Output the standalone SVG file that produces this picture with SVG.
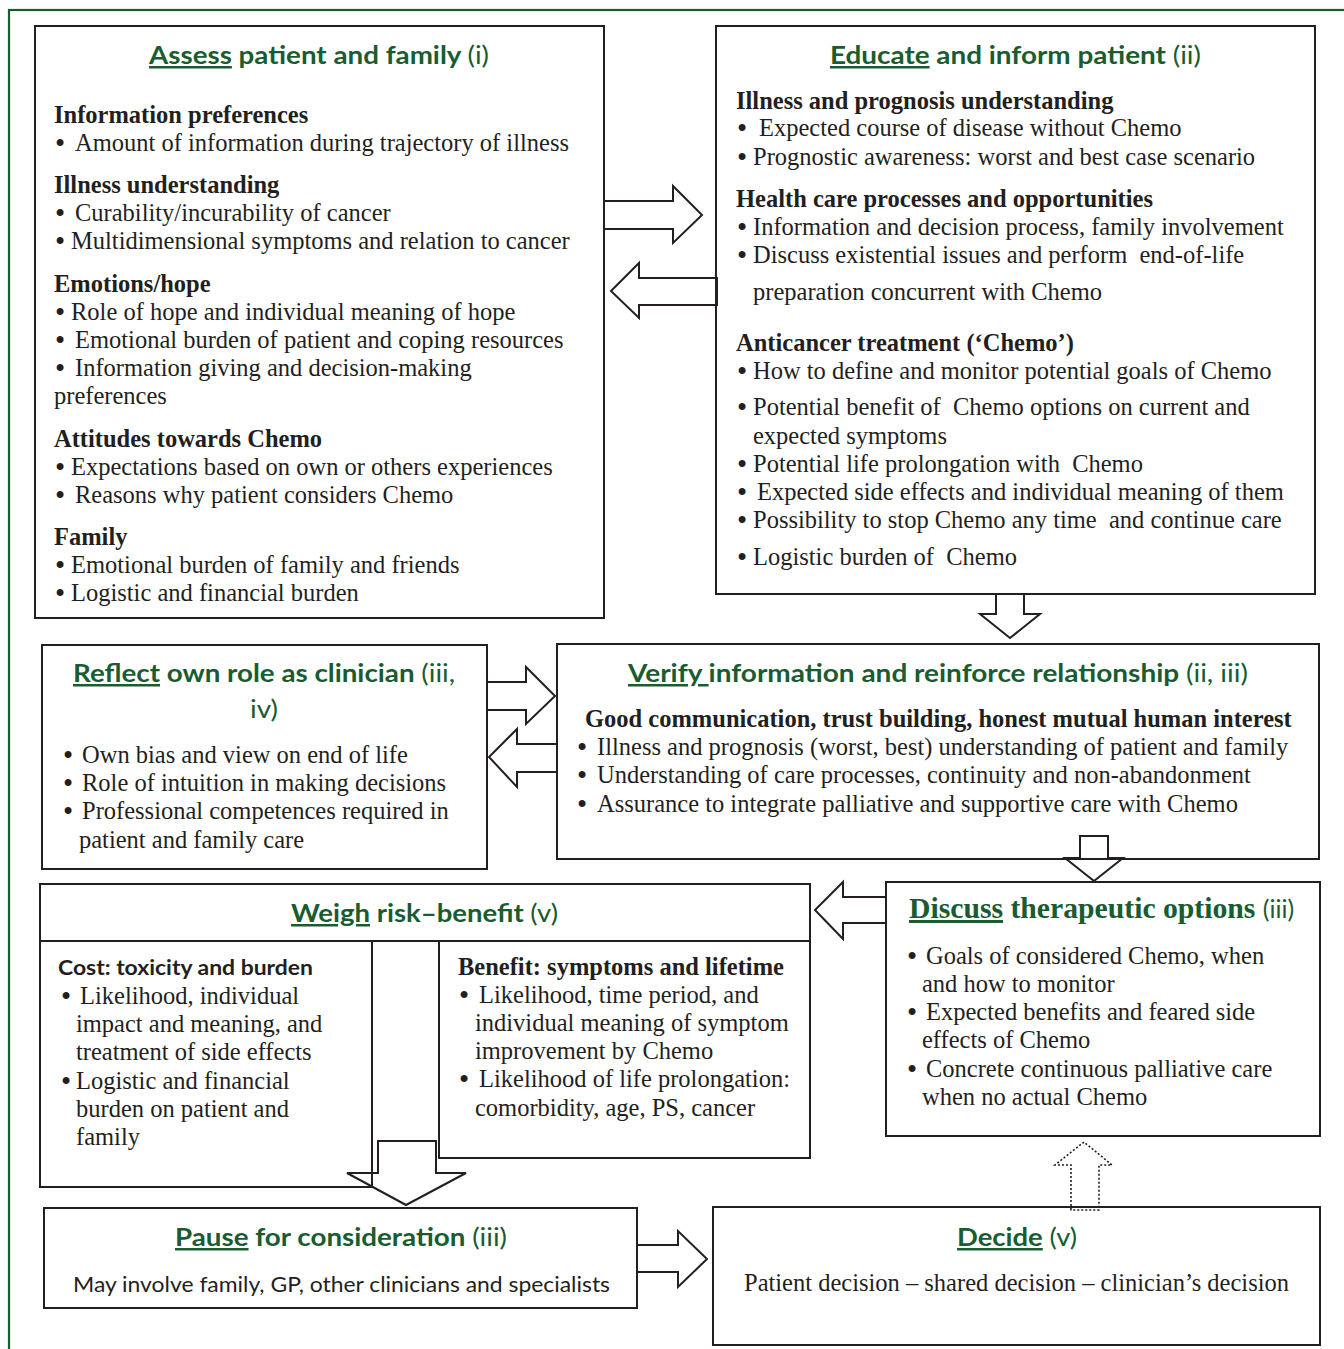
<svg xmlns="http://www.w3.org/2000/svg" width="1344" height="1349" viewBox="0 0 1344 1349">
<style>
.box{fill:none;stroke:#231f20;stroke-width:2}
.arr{fill:none;stroke:#231f20;stroke-width:2;stroke-linejoin:miter}
.dot{stroke-dasharray:2 2;stroke-width:1.6}
.t{font-family:Lato,'Liberation Sans',sans-serif;font-weight:700;font-size:25px;fill:#185c30}
.r{font-weight:400}
.u{text-decoration:underline}
.h{font-family:'Liberation Serif',serif;font-weight:700;font-size:24.5px;fill:#231f20}
.b{font-family:'Liberation Serif',serif;font-size:24.5px;fill:#231f20;white-space:pre}
.bu{font-size:29px}
.s{font-family:Lato,'Liberation Sans',sans-serif;font-size:21px;fill:#231f20}
.sb{font-family:Lato,'Liberation Sans',sans-serif;font-weight:700;font-size:21px;fill:#231f20}
.dt{font-family:'Liberation Serif',serif;font-weight:700;font-size:29.7px;fill:#185c30}
</style>
<rect x="9" y="10" width="1360" height="1360" fill="none" stroke="#185c30" stroke-width="2.2"/>

<g id="assess">
<rect class="box" x="35" y="26" width="569" height="592"/>
<text class="t" x="149" y="64" textLength="340" lengthAdjust="spacingAndGlyphs"><tspan class="u">Assess</tspan> patient and family <tspan class="r">(i)</tspan></text>
<text class="h" x="54" y="123">Information preferences</text>
<text class="b"><tspan class="bu" x="55" y="153">•</tspan><tspan x="75" y="151">Amount of information during trajectory of illness</tspan></text>
<text class="h" x="54" y="193">Illness understanding</text>
<text class="b"><tspan class="bu" x="55" y="223">•</tspan><tspan x="75" y="221">Curability/incurability of cancer</tspan></text>
<text class="b"><tspan class="bu" x="55" y="251">•</tspan><tspan x="71" y="249">Multidimensional symptoms and relation to cancer</tspan></text>
<text class="h" x="54" y="292">Emotions/hope</text>
<text class="b"><tspan class="bu" x="55" y="322">•</tspan><tspan x="71" y="320">Role of hope and individual meaning of hope</tspan></text>
<text class="b"><tspan class="bu" x="55" y="350">•</tspan><tspan x="75" y="348">Emotional burden of patient and coping resources</tspan></text>
<text class="b"><tspan class="bu" x="55" y="378">•</tspan><tspan x="75" y="376">Information giving and decision-making</tspan></text>
<text class="b" x="54" y="404">preferences</text>
<text class="h" x="54" y="447">Attitudes towards Chemo</text>
<text class="b"><tspan class="bu" x="55" y="477">•</tspan><tspan x="71" y="475">Expectations based on own or others experiences</tspan></text>
<text class="b"><tspan class="bu" x="55" y="505">•</tspan><tspan x="75" y="503">Reasons why patient considers Chemo</tspan></text>
<text class="h" x="54" y="545">Family</text>
<text class="b"><tspan class="bu" x="55" y="575">•</tspan><tspan x="71" y="573">Emotional burden of family and friends</tspan></text>
<text class="b"><tspan class="bu" x="55" y="603">•</tspan><tspan x="71" y="601">Logistic and financial burden</tspan></text>
</g>

<g id="educate">
<rect class="box" x="716" y="26" width="599" height="568"/>
<text class="t" x="830" y="64" textLength="371" lengthAdjust="spacingAndGlyphs"><tspan class="u">Educate</tspan> and inform patient <tspan class="r">(ii)</tspan></text>
<text class="h" x="736" y="109">Illness and prognosis understanding</text>
<text class="b"><tspan class="bu" x="737" y="138">•</tspan><tspan x="759" y="136">Expected course of disease without Chemo</tspan></text>
<text class="b"><tspan class="bu" x="737" y="167">•</tspan><tspan x="753" y="165">Prognostic awareness: worst and best case scenario</tspan></text>
<text class="h" x="736" y="207">Health care processes and opportunities</text>
<text class="b"><tspan class="bu" x="737" y="237">•</tspan><tspan x="753" y="235">Information and decision process, family involvement</tspan></text>
<text class="b"><tspan class="bu" x="737" y="265">•</tspan><tspan x="753" y="263">Discuss existential issues and perform  end-of-life</tspan></text>
<text class="b" x="753" y="300">preparation concurrent with Chemo</text>
<text class="h" x="736" y="351">Anticancer treatment (‘Chemo’)</text>
<text class="b"><tspan class="bu" x="737" y="381">•</tspan><tspan x="753" y="379">How to define and monitor potential goals of Chemo</tspan></text>
<text class="b"><tspan class="bu" x="737" y="417">•</tspan><tspan x="753" y="415">Potential benefit of  Chemo options on current and</tspan></text>
<text class="b" x="753" y="444">expected symptoms</text>
<text class="b"><tspan class="bu" x="737" y="474">•</tspan><tspan x="753" y="472">Potential life prolongation with  Chemo</tspan></text>
<text class="b"><tspan class="bu" x="737" y="502">•</tspan><tspan x="757" y="500">Expected side effects and individual meaning of them</tspan></text>
<text class="b"><tspan class="bu" x="737" y="530">•</tspan><tspan x="753" y="528">Possibility to stop Chemo any time  and continue care</tspan></text>
<text class="b"><tspan class="bu" x="737" y="567">•</tspan><tspan x="753" y="565">Logistic burden of  Chemo</tspan></text>
</g>

<g id="reflect">
<rect class="box" x="42" y="645" width="445" height="224"/>
<text class="t" x="73" y="682" textLength="382" lengthAdjust="spacingAndGlyphs"><tspan class="u">Reflect</tspan> own role as clinician <tspan class="r">(iii,</tspan></text>
<text class="t r" x="250" y="718" textLength="28" lengthAdjust="spacingAndGlyphs">iv)</text>
<text class="b"><tspan class="bu" x="63" y="765">•</tspan><tspan x="82" y="763">Own bias and view on end of life</tspan></text>
<text class="b"><tspan class="bu" x="63" y="793">•</tspan><tspan x="82" y="791">Role of intuition in making decisions</tspan></text>
<text class="b"><tspan class="bu" x="63" y="821">•</tspan><tspan x="82" y="819">Professional competences required in</tspan></text>
<text class="b" x="79" y="848">patient and family care</text>
</g>

<g id="verify">
<rect class="box" x="557" y="644" width="762" height="215"/>
<text class="t" x="628" y="682" textLength="620" lengthAdjust="spacingAndGlyphs"><tspan class="u">Verify </tspan>information and reinforce relationship <tspan class="r">(ii, iii)</tspan></text>
<text class="h" x="585" y="727">Good communication, trust building, honest mutual human interest</text>
<text class="b"><tspan class="bu" x="577" y="757">•</tspan><tspan x="597" y="755">Illness and prognosis (worst, best) understanding of patient and family</tspan></text>
<text class="b"><tspan class="bu" x="577" y="785">•</tspan><tspan x="597" y="783">Understanding of care processes, continuity and non-abandonment</tspan></text>
<text class="b"><tspan class="bu" x="577" y="814">•</tspan><tspan x="597" y="812">Assurance to integrate palliative and supportive care with Chemo</tspan></text>
</g>

<g id="weigh">
<rect class="box" x="40" y="884" width="770" height="57"/>
<rect class="box" x="40" y="941" width="332" height="246"/>
<rect class="box" x="439" y="941" width="371" height="217"/>
<text class="t" x="291" y="922" textLength="267" lengthAdjust="spacingAndGlyphs"><tspan class="u">Weigh</tspan> risk–benefit <tspan class="r">(v)</tspan></text>
<text class="sb" x="58" y="975" textLength="255" lengthAdjust="spacingAndGlyphs">Cost: toxicity and burden</text>
<text class="b"><tspan class="bu" x="61" y="1006">•</tspan><tspan x="80" y="1004">Likelihood, individual</tspan></text>
<text class="b" x="76" y="1032">impact and meaning, and</text>
<text class="b" x="76" y="1060">treatment of side effects</text>
<text class="b"><tspan class="bu" x="61" y="1091">•</tspan><tspan x="76" y="1089">Logistic and financial</tspan></text>
<text class="b" x="76" y="1117">burden on patient and</text>
<text class="b" x="76" y="1145">family</text>
<text class="h" x="458" y="975">Benefit: symptoms and lifetime</text>
<text class="b"><tspan class="bu" x="459" y="1005">•</tspan><tspan x="479" y="1003">Likelihood, time period, and</tspan></text>
<text class="b" x="475" y="1031">individual meaning of symptom</text>
<text class="b" x="475" y="1059">improvement by Chemo</text>
<text class="b"><tspan class="bu" x="459" y="1089">•</tspan><tspan x="479" y="1087">Likelihood of life prolongation:</tspan></text>
<text class="b" x="475" y="1116">comorbidity, age, PS, cancer</text>
</g>

<g id="discuss">
<rect class="box" x="886" y="882" width="434" height="254"/>
<text class="dt" x="909" y="918"><tspan class="u">Discuss</tspan> therapeutic options <tspan font-family="Lato,'Liberation Sans',sans-serif" font-weight="400" font-size="25px">(iii)</tspan></text>
<text class="b"><tspan class="bu" x="907" y="966">•</tspan><tspan x="926" y="964">Goals of considered Chemo, when</tspan></text>
<text class="b" x="922" y="992">and how to monitor</text>
<text class="b"><tspan class="bu" x="907" y="1022">•</tspan><tspan x="926" y="1020">Expected benefits and feared side</tspan></text>
<text class="b" x="922" y="1048">effects of Chemo</text>
<text class="b"><tspan class="bu" x="907" y="1079">•</tspan><tspan x="926" y="1077">Concrete continuous palliative care</tspan></text>
<text class="b" x="922" y="1105">when no actual Chemo</text>
</g>

<g id="pause">
<rect class="box" x="44" y="1208" width="593" height="100"/>
<text class="t" x="175" y="1246" textLength="332" lengthAdjust="spacingAndGlyphs"><tspan class="u">Pause</tspan> for consideration <tspan class="r">(iii)</tspan></text>
<text class="s" x="73" y="1292" textLength="537" lengthAdjust="spacingAndGlyphs">May involve family, GP, other clinicians and specialists</text>
</g>

<g id="decide">
<rect class="box" x="713" y="1207" width="607" height="138"/>
<text class="t" x="957" y="1246" textLength="120" lengthAdjust="spacingAndGlyphs"><tspan class="u">Decide</tspan> <tspan class="r">(v)</tspan></text>
<text class="b" x="744" y="1291">Patient decision – shared decision – clinician’s decision</text>
</g>

<g id="connectors">
<polygon class="arr" points="604,201 673,201 673,186 702,215 673,243 673,229 604,229"/>
<polygon class="arr" points="717,278 639,278 639,263 611,291 639,318 639,305 717,305"/>
<polygon class="arr" points="996,594 1024,594 1024,614 1040,614 1010,638 980,614 996,614"/>
<polygon class="arr" points="487,682 526,682 526,667 555,696 526,724 526,710 487,710"/>
<polygon class="arr" points="557,744 517,744 517,729 489,757 517,787 517,772 557,772"/>
<polygon class="arr" points="1080,836 1108,836 1108,858 1123,858 1094,881 1065,858 1080,858"/>
<polygon class="arr" points="886,897 843,897 843,882 815,910 843,939 843,923 886,923"/>
<polygon class="arr" points="378,1141 436,1141 436,1173 466,1173 406,1205 347,1173 378,1173"/>
<polygon class="arr" points="637,1245 678,1245 678,1231 707,1259 678,1287 678,1272 637,1272"/>
<polygon class="arr dot" points="1071,1210 1071,1165 1055,1165 1084,1142 1112,1165 1099,1165 1099,1210"/>
</g>
</svg>
